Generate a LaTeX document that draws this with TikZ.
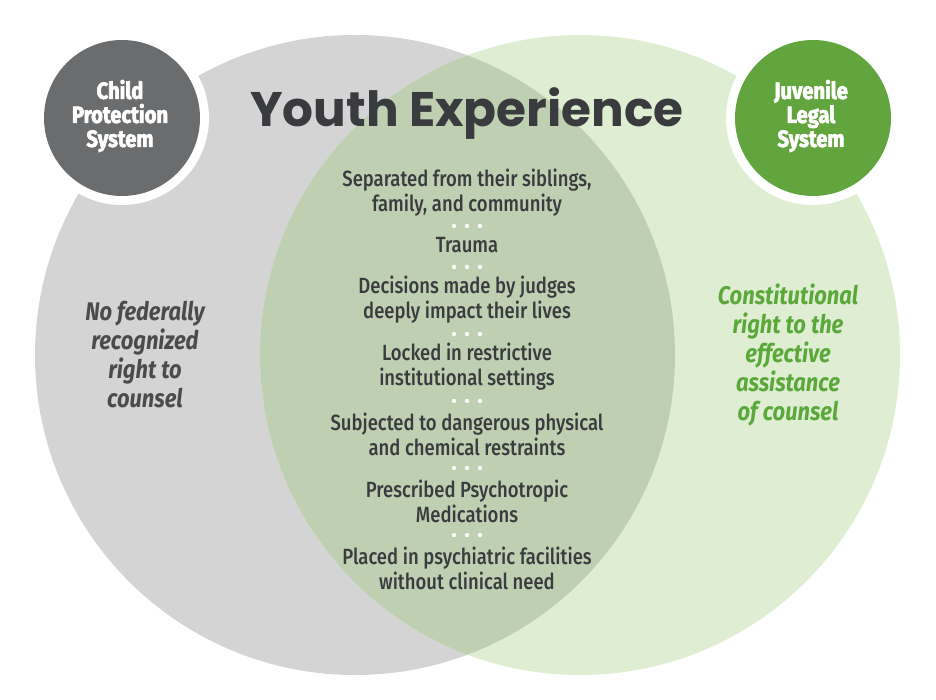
\documentclass[tikz,border=0pt]{standalone}
\usepackage{fontspec}
\setmainfont[FakeStretch=0.84]{Fira Sans Medium}
\newfontfamily\titlefont{Poppins}
\newfontfamily\tagfont[FakeStretch=0.86, BoldFeatures={FakeBold=2.6}]{Fira Sans}
\definecolor{cpsbg}{HTML}{D4D4D4}
\definecolor{jlsbg}{HTML}{DFEED3}
\definecolor{bothbg}{HTML}{BFCFB2}
\definecolor{cpsdark}{HTML}{6B6C6E}
\definecolor{jlsgreen}{HTML}{62A53E}
\definecolor{inktext}{HTML}{3A3B3F}
\definecolor{cpstext}{HTML}{4A4B4D}
\definecolor{jlstext}{HTML}{5AA83A}
\tikzset{
  item/.style={align=center, text=inktext, inner sep=0pt,
    font=\fontsize{22}{25}\selectfont},
  badge/.style={align=center, text=white, inner sep=0pt,
    font=\tagfont\bfseries\fontsize{23.5}{24}\selectfont},
  claim/.style={align=center, inner sep=0pt,
    font=\tagfont\bfseries\itshape\fontsize{25.5}{29}\selectfont}
}
\begin{document}
\begin{tikzpicture}[x=1pt, y=-1pt]
\useasboundingbox (0,0) rectangle (936,700);

% the two systems
\fill[cpsbg] (355,355) circle (320pt);
\fill[jlsbg] (580,355) circle (320pt);
\begin{scope}
\clip (355,355) circle (320pt);
\fill[bothbg] (580,355) circle (320pt);
\end{scope}

% badges
\fill[white] (122,118) circle (87pt);
\fill[cpsdark] (122,118) circle (78pt);
\fill[white] (813,118) circle (87pt);
\fill[jlsgreen] (813,118) circle (78pt);
\node[badge] (cps) at (120,116) {Child\\Protection\\System};
\node[badge] (jls) at (811,116) {Juvenile\\Legal\\System};

\node[text=inktext, inner sep=0pt, font=\titlefont\bfseries\fontsize{48.5}{52}\selectfont]
  (title) at (467,114) {Youth Experience};

% shared experience
\node[item] (sep) at (467,193) {Separated from their siblings,\\family, and community};
\node[item] (trauma) at (467,245) {Trauma};
\node[item] (judges) at (467,300) {Decisions made by judges\\deeply impact their lives};
\node[item] (locked) at (467,367) {Locked in restrictive\\institutional settings};
\node[item] (restr) at (467,434) {Subjected to dangerous physical\\and chemical restraints};
\node[item] (meds) at (467,501) {Prescribed Psychotropic\\Medications};
\node[item] (psych) at (467,568) {Placed in psychiatric facilities\\without clinical need};
\foreach \y in {226,267,334,401,468,535}
  \foreach \x in {454,467,480}
    \fill[white] (\x,\y) circle (2.2pt);

% right to counsel
\node[claim, text=cpstext] (nocounsel) at (145,355)
  {No federally\\recognized\\right to\\counsel};
\node[claim, text=jlstext] (counsel) at (788,355)
  {Constitutional\\right to the\\effective\\assistance\\of counsel};
\end{tikzpicture}
\end{document}
